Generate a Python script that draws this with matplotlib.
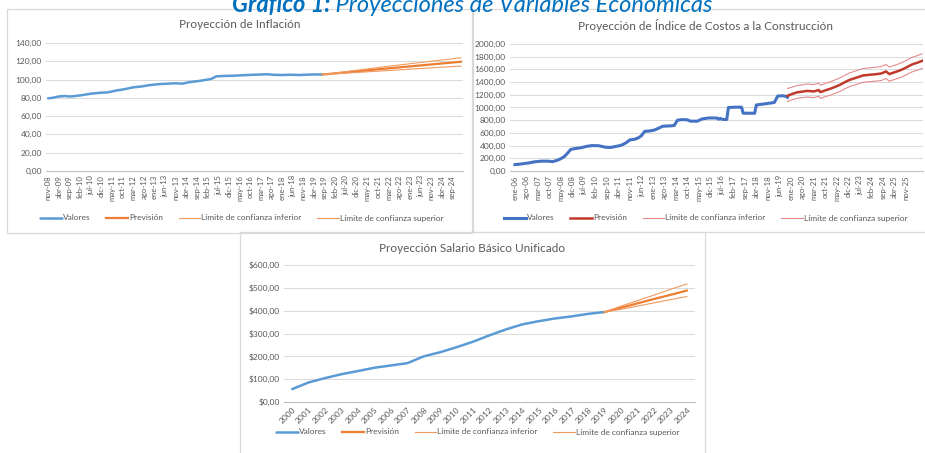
import matplotlib
matplotlib.use("Agg")
import matplotlib.pyplot as plt
from matplotlib.patches import Rectangle
from matplotlib.ticker import FuncFormatter

# ---------------- data ----------------
# Inflación (índice mensual, desde nov-08)
infl_labels = ["nov-08", "abr-09", "sep-09", "feb-10", "jul-10", "dic-10", "may-11", "oct-11",
               "mar-12", "ago-12", "ene-13", "jun-13", "nov-13", "abr-14", "sep-14", "feb-15",
               "jul-15", "dic-15", "may-16", "oct-16", "mar-17", "ago-17", "ene-18", "jun-18",
               "nov-18", "abr-19", "sep-19", "feb-20", "jul-20", "dic-20", "may-21", "oct-21",
               "mar-22", "ago-22", "ene-23", "jun-23", "nov-23", "abr-24", "sep-24"]
infl_idx = [0, 2, 5, 8, 10, 12, 16, 20, 24, 28, 32, 36, 40, 44, 48, 52, 56, 60, 63, 66,
            71, 75, 77, 79, 83, 87, 92, 97, 103, 106, 110, 114, 118, 122, 126, 129]
infl_val = [79.5, 80.0, 81.5, 82.0, 81.5, 81.8, 83.0, 84.5, 85.5, 86.0, 88.0, 89.5, 91.5,
            92.5, 94.0, 95.0, 95.5, 96.0, 95.5, 97.0, 98.5, 100.0, 101.0, 103.5, 104.0,
            104.2, 104.8, 105.3, 105.8, 105.2, 105.0, 105.3, 105.0, 105.4, 105.6, 105.5]
infl_fc_idx = [129, 160, 194]
infl_fc = [105.5, 112.3, 119.5]
infl_fc_low = [105.5, 109.9, 114.8]
infl_fc_up = [105.5, 114.6, 123.8]

# Índice de Costos a la Construcción (mensual, desde ene-06)
icc_labels = ["ene-06", "ago-06", "mar-07", "oct-07", "may-08", "dic-08", "jul-09", "feb-10",
              "sep-10", "abr-11", "nov-11", "jun-12", "ene-13", "ago-13", "mar-14", "oct-14",
              "may-15", "dic-15", "jul-16", "feb-17", "sep-17", "abr-18", "nov-18", "jun-19",
              "ene-20", "ago-20", "mar-21", "oct-21", "may-22", "dic-22", "jul-23", "feb-24",
              "sep-24", "abr-25", "nov-25"]
icc_idx = [0, 3, 6, 9, 12, 16, 20, 23, 26, 28, 30, 32, 34, 37, 40, 44, 47, 51, 55, 58,
           61, 64, 66, 68, 70, 73, 75, 77, 79, 82, 85, 88, 90, 94, 97, 99, 102, 105, 107, 111,
           114, 118, 123, 124, 125, 126, 128, 129, 130, 134, 138, 139, 146, 147, 150, 153, 157, 158, 160, 163,
           165, 166]
icc_val = [100, 108, 118, 130, 145, 155, 155, 148, 170, 195, 225, 280, 340, 355, 365, 390, 400, 398, 375, 370,
           385, 400, 420, 450, 490, 500, 520, 555, 625, 630, 645, 680, 705, 710, 716, 800, 810, 805, 785, 784,
           820, 835, 835, 815, 830, 815, 810, 812, 1000, 1005, 1005, 910, 910, 1040, 1050, 1060, 1075, 1080, 1180, 1185,
           1175, 1160]
icc_fc_idx = [166, 169, 172, 175, 178, 182, 185, 186, 189, 192, 195, 198, 201, 204, 208, 212, 216, 220, 223, 226,
              228, 230, 233, 236, 239, 242, 245, 248]
icc_fc = [1185, 1215, 1240, 1250, 1262, 1253, 1275, 1242, 1270, 1295, 1325, 1358, 1400, 1437, 1470, 1505, 1515, 1525,
          1535, 1568, 1526, 1545, 1570, 1600, 1640, 1680, 1705, 1735]
icc_fc_up = [1300, 1322, 1347, 1357, 1370, 1361, 1383, 1350, 1378, 1404, 1434, 1467, 1509, 1546, 1580, 1615, 1625, 1635,
             1645, 1678, 1636, 1655, 1680, 1711, 1751, 1791, 1816, 1846]
icc_fc_low = [1095, 1123, 1146, 1155, 1166, 1156, 1177, 1143, 1170, 1194, 1223, 1255, 1296, 1332, 1364, 1398, 1407, 1416,
              1425, 1457, 1414, 1432, 1456, 1485, 1524, 1563, 1587, 1616]

# Salario Básico Unificado (anual)
sbu_years = list(range(2000, 2025))
sbu_act_years = list(range(2000, 2020))
sbu_val = [56.6, 85.7, 104.9, 121.9, 135.6, 150, 160, 170, 200, 218,
           240, 264, 292, 318, 340, 354, 366, 375, 386, 394]
sbu_fc_years = [2019, 2020, 2021, 2022, 2023, 2024]
sbu_fc = [394, 413, 432, 451, 469, 488]
sbu_fc_low = [394, 406, 420, 434, 448, 462]
sbu_fc_up = [394, 420, 444, 468, 493, 517]

legend_names = ["Valores", "Previsión", "Límite de confianza inferior", "Límite de confianza superior"]

# ---------------- style ----------------
plt.rcParams.update({
    'font.family': ['Lato', 'DejaVu Sans'],
    'font.size': 6,
    'text.color': '#595959',
    'xtick.color': '#595959',
    'ytick.color': '#595959',
})

W, H = 925, 453
fig = plt.figure(figsize=(W / 100, H / 100), dpi=100)
fig.patch.set_facecolor('white')


def px_axes(x0, y0, x1, y1):
    # pixel box (top-left origin) -> figure axes
    return fig.add_axes([x0 / W, 1 - y1 / H, (x1 - x0) / W, (y1 - y0) / H])


def excel_style(ax, yfmt):
    for s in ['top', 'right', 'left']:
        ax.spines[s].set_visible(False)
    ax.spines['bottom'].set_color('#BFBFBF')
    ax.spines['bottom'].set_linewidth(0.8)
    ax.yaxis.grid(True, color='#D9D9D9', linewidth=0.7)
    ax.set_axisbelow(True)
    ax.tick_params(length=0, labelsize=6, pad=3)
    ax.yaxis.set_major_formatter(FuncFormatter(yfmt))


def frame(x0, y0, x1, y1):
    fig.add_artist(Rectangle((x0 / W, 1 - y1 / H), (x1 - x0) / W, (y1 - y0) / H,
                             transform=fig.transFigure, fill=False,
                             edgecolor='#D9D9D9', linewidth=0.9))


def add_legend(ax, handles, cx, cy):
    ax.legend(handles, legend_names, loc='center', ncol=4, frameon=False,
              bbox_to_anchor=(cx / W, 1 - cy / H), bbox_transform=fig.transFigure,
              fontsize=6, handlelength=2.6, handletextpad=0.1, columnspacing=1.9,
              labelcolor='#595959')


def comma(v, _):
    return f"{v:.2f}".replace('.', ',')


def dollar(v, _):
    return "$" + f"{v:.2f}".replace('.', ',')


frame(7, 9, 472, 233)
frame(473, 9, 930, 232)
frame(240, 232, 705, 460)

# headline (cut off at the top edge, as in the source)
HEAD_BLUE = '#0070C0'
t1 = fig.text(0, 1 - 12 / H, "Gráfico 1:", fontsize=17, fontstyle='italic', fontweight='bold',
              color=HEAD_BLUE, ha='left', va='baseline')
t2 = fig.text(0, 1 - 12 / H, " Proyecciones de Variables Económicas", fontsize=17,
              fontstyle='italic', color=HEAD_BLUE, ha='left', va='baseline')
renderer = fig.canvas.get_renderer()
w1 = t1.get_window_extent(renderer).width
w2 = t2.get_window_extent(renderer).width
start = 472 - (w1 + w2) / 2
t1.set_x(start / W)
t2.set_x((start + w1) / W)

# ---------------- chart 1: inflation ----------------
BLUE = '#5B9BD5'
ORANGE = '#ED7D31'
ORANGE_L = '#F19A5E'
ax1 = px_axes(46, 43, 463, 171)
excel_style(ax1, comma)
l1, = ax1.plot(infl_idx, infl_val, color=BLUE, lw=1.8, solid_capstyle='round')
l2, = ax1.plot(infl_fc_idx, infl_fc, color=ORANGE, lw=1.6)
l3, = ax1.plot(infl_fc_idx, infl_fc_low, color=ORANGE_L, lw=0.8)
l4, = ax1.plot(infl_fc_idx, infl_fc_up, color=ORANGE_L, lw=0.8)
ax1.set_ylim(0, 140)
ax1.set_yticks(range(0, 141, 20))
ax1.set_xlim(-1, 195)
ax1.set_xticks(range(0, 5 * len(infl_labels), 5))
ax1.set_xticklabels(infl_labels, rotation=90, fontsize=5.6)
fig.text(240 / W, 1 - 25 / H, "Proyección de Inflación", fontsize=8.5, ha='center', va='center',
         color='#595959')
add_legend(ax1, [l1, l2, l3, l4], 242, 218)

# ---------------- chart 2: ICC ----------------
BLUE2 = '#4472C4'
RED = '#C0392B'
RED_L = '#E58A8C'
ax2 = px_axes(510, 44, 923, 171)
excel_style(ax2, comma)
m1, = ax2.plot(icc_idx, icc_val, color=BLUE2, lw=2.2)
m2, = ax2.plot(icc_fc_idx, icc_fc, color=RED, lw=1.8)
m3, = ax2.plot(icc_fc_idx, icc_fc_low, color=RED_L, lw=0.8)
m4, = ax2.plot(icc_fc_idx, icc_fc_up, color=RED_L, lw=0.8)
ax2.set_ylim(0, 2000)
ax2.set_yticks(range(0, 2001, 200))
ax2.set_xlim(-3, 248.5)
ax2.set_xticks(range(0, 7 * len(icc_labels), 7))
ax2.set_xticklabels(icc_labels, rotation=90, fontsize=5.6)
fig.text(705 / W, 1 - 25 / H, "Proyección de Índice de Costos a la Construcción", fontsize=8.5,
         ha='center', va='center', color='#595959')
add_legend(ax2, [m1, m2, m3, m4], 706, 218)

# ---------------- chart 3: SBU ----------------
ax3 = px_axes(284, 265, 695, 402)
excel_style(ax3, dollar)
n1, = ax3.plot(sbu_act_years, sbu_val, color=BLUE, lw=1.8, solid_capstyle='round')
n2, = ax3.plot(sbu_fc_years, sbu_fc, color=ORANGE, lw=1.6)
n3, = ax3.plot(sbu_fc_years, sbu_fc_low, color=ORANGE_L, lw=0.8)
n4, = ax3.plot(sbu_fc_years, sbu_fc_up, color=ORANGE_L, lw=0.8)
ax3.set_ylim(0, 600)
ax3.set_yticks(range(0, 601, 100))
ax3.set_xlim(1999.5, 2024.5)
ax3.set_xticks(sbu_years)
ax3.set_xticklabels([str(y) for y in sbu_years], rotation=45, ha='right', rotation_mode='anchor',
                    fontsize=6)
fig.text(472 / W, 1 - 248 / H, "Proyección Salario Básico Unificado", fontsize=8.5,
         ha='center', va='center', color='#595959')
add_legend(ax3, [n1, n2, n3, n4], 478, 432)

fig.savefig("out.png", dpi=100, facecolor='white')
